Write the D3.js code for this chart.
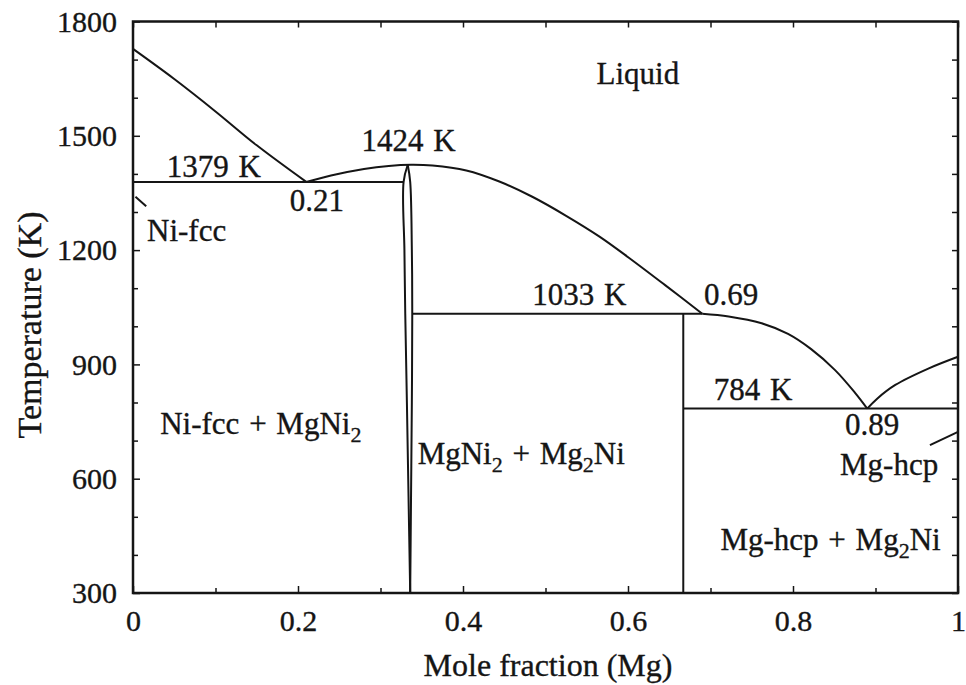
<!DOCTYPE html>
<html>
<head>
<meta charset="utf-8">
<script src="https://cdnjs.cloudflare.com/ajax/libs/d3/7.8.5/d3.min.js"></script>
<style>
    body { margin: 0; background: #fff; }
    text { font-family: "Liberation Serif", "Times New Roman", serif; fill: #151515; stroke: #151515; stroke-width: 0.35; }
    .line { fill: none; stroke: #151515; stroke-width: 2; }
    .axis path { display: none; }
    .axis line { stroke: #151515; stroke-width: 1.5; }
    .axis text { font-size: 30px; }
</style>
</head>
<body>
<svg id="chart" width="966" height="685"></svg>
<script>
// Mg-Ni phase diagram
// x = mole fraction Mg, T = temperature in K
var xTicks = [0, 0.2, 0.4, 0.6, 0.8, 1];
var xTickLabels = ["0", "0.2", "0.4", "0.6", "0.8", "1"];
var yTicks = [300, 600, 900, 1200, 1500, 1800];

var liquidusNi = [[0, 1728], [0.05, 1649], [0.10, 1564], [0.15, 1475], [0.21, 1379]];
var liquidusMgNi2 = [[0.21, 1379], [0.24, 1396], [0.28, 1413], [0.31, 1421],
    [0.337, 1424], [0.363, 1422], [0.404, 1409], [0.444, 1380], [0.484, 1340],
    [0.525, 1290], [0.565, 1236], [0.601, 1180], [0.645, 1108], [0.69, 1033]];
var liquidusMg2Ni = [[0.69, 1033], [0.722, 1026], [0.762, 1008], [0.794, 980],
    [0.822, 940], [0.851, 885], [0.875, 826], [0.89, 784]];
var liquidusMg = [[0.89, 784], [0.902, 810], [0.924, 846], [0.964, 889], [1, 920]];
var solvusNi = [[0.003, 1340], [0.016, 1315]];
var solvusMg = [[0.966, 688], [1, 723]];
var mgni2Left = [[0.333, 1424], [0.328, 1379], [0.329, 1200], [0.330, 1033], [0.332, 800], [0.334, 550], [0.336, 300]];
var mgni2Right = [[0.333, 1424], [0.336, 1379], [0.338, 1200], [0.3385, 1033], [0.338, 800], [0.337, 550], [0.336, 300]];
// invariant lines: [x0, x1, T]
var isotherms = [[0, 0.328, 1379], [0.3385, 0.69, 1033], [0.667, 1, 784]];
var mg2NiLine = [[0.667, 300], [0.667, 1033]];

var width = 966, height = 685;
var margin = {top: 21.5, right: 8, bottom: 94, left: 133};

drawDiagram();

function drawDiagram() {
    var svg = d3.select("#chart");

    var xScale = d3.scaleLinear()
        .domain([0, 1])
        .range([margin.left, width - margin.right]);

    var yScale = d3.scaleLinear()
        .domain([300, 1800])
        .range([height - margin.bottom + 2, margin.top]);

    var x0 = xScale(0), x1 = xScale(1), y0 = yScale(300), y1 = yScale(1800);

    // bottom axis with labels, ticks point inward
    svg.append("g")
        .attr("class", "axis")
        .attr("transform", "translate(0," + y0 + ")")
        .call(d3.axisBottom(xScale).tickValues(xTicks).tickSize(-7).tickPadding(17)
            .tickFormat(function(d, i) { return xTickLabels[i]; }));
    svg.append("g")
        .attr("class", "axis")
        .attr("transform", "translate(0," + y0 + ")")
        .call(d3.axisBottom(xScale).tickValues(d3.range(0.1, 1, 0.2)).tickSize(-5).tickFormat(""));

    // top axis, ticks only
    svg.append("g")
        .attr("class", "axis")
        .attr("transform", "translate(0," + y1 + ")")
        .call(d3.axisTop(xScale).tickValues(d3.range(0, 1.01, 0.1)).tickSize(-6).tickFormat(""));

    // left axis
    svg.append("g")
        .attr("class", "axis")
        .attr("transform", "translate(" + x0 + ",0)")
        .call(d3.axisLeft(yScale).tickValues(yTicks).tickSize(-7).tickPadding(16).tickFormat(d3.format("d")));
    svg.append("g")
        .attr("class", "axis")
        .attr("transform", "translate(" + x0 + ",0)")
        .call(d3.axisLeft(yScale).tickValues(d3.range(400, 1800, 100).filter(function(d) { return d % 300 != 0; }))
            .tickSize(-5).tickFormat(""));

    // right axis, ticks only
    svg.append("g")
        .attr("class", "axis")
        .attr("transform", "translate(" + x1 + ",0)")
        .call(d3.axisRight(yScale).tickValues(d3.range(300, 1801, 100)).tickSize(-6).tickFormat(""));

    // frame
    svg.append("rect")
        .attr("x", x0).attr("y", y1)
        .attr("width", x1 - x0).attr("height", y0 - y1)
        .attr("fill", "none").attr("stroke", "#151515").attr("stroke-width", 2.5);

    var curved = d3.line()
        .x(function(d) { return xScale(d[0]); })
        .y(function(d) { return yScale(d[1]); })
        .curve(d3.curveCatmullRom);
    var straight = d3.line()
        .x(function(d) { return xScale(d[0]); })
        .y(function(d) { return yScale(d[1]); });

    [liquidusNi, liquidusMgNi2, liquidusMg2Ni, liquidusMg, mgni2Left, mgni2Right].forEach(function(c) {
        svg.append("path").datum(c).attr("class", "line").attr("d", curved);
    });
    [solvusNi, solvusMg, mg2NiLine].forEach(function(c) {
        svg.append("path").datum(c).attr("class", "line").attr("d", straight);
    });
    svg.selectAll(".iso")
        .data(isotherms)
        .enter().append("line")
        .attr("class", "line iso")
        .attr("x1", function(d) { return xScale(d[0]); })
        .attr("x2", function(d) { return xScale(d[1]); })
        .attr("y1", function(d) { return yScale(d[2]); })
        .attr("y2", function(d) { return yScale(d[2]); });

    // annotations: [text parts, x, T, anchor]; parts are [string, subscript?]
    var notes = [
        [[["Liquid"]], 0.612, 1637, "middle"],
        [[["1379 K"]], 0.041, 1392, "start"],
        [[["0.21"]], 0.19, 1303, "start"],
        [[["Ni-fcc"]], 0.017, 1223, "start"],
        [[["1424 K"]], 0.277, 1461, "start"],
        [[["1033 K"]], 0.484, 1057, "start"],
        [[["0.69"]], 0.692, 1057, "start"],
        [[["784 K"]], 0.704, 807, "start"],
        [[["0.89"]], 0.863, 715, "start"],
        [[["Mg-hcp"]], 0.976, 609, "end"],
        [[["Ni-fcc + MgNi"], ["2", true]], 0.033, 717, "start"],
        [[["MgNi"], ["2", true], [" + Mg"], ["2", true], ["Ni"]], 0.345, 638, "start"],
        [[["Mg-hcp + Mg"], ["2", true], ["Ni"]], 0.979, 414, "end"]
    ];
    notes.forEach(function(n) {
        var t = svg.append("text")
            .attr("x", xScale(n[1]))
            .attr("y", yScale(n[2]))
            .attr("text-anchor", n[3])
            .style("font-size", "31px")
            .style("word-spacing", "2px");
        var shifted = false;
        n[0].forEach(function(p) {
            var dy = 0;
            if (p[1] && !shifted) { dy = 8; shifted = true; }
            else if (!p[1] && shifted) { dy = -8; shifted = false; }
            t.append("tspan")
                .attr("dy", dy)
                .style("font-size", p[1] ? "22px" : "31px")
                .text(p[0]);
        });
    });

    // axis titles
    svg.append("text")
        .attr("x", 548)
        .attr("y", 676)
        .attr("text-anchor", "middle")
        .style("font-size", "32px")
        .text("Mole fraction (Mg)");
    svg.append("text")
        .attr("transform", "translate(41," + 325 + ") rotate(-90)")
        .attr("text-anchor", "middle")
        .style("font-size", "34px")
        .text("Temperature (K)");
}
</script>
</body>
</html>
